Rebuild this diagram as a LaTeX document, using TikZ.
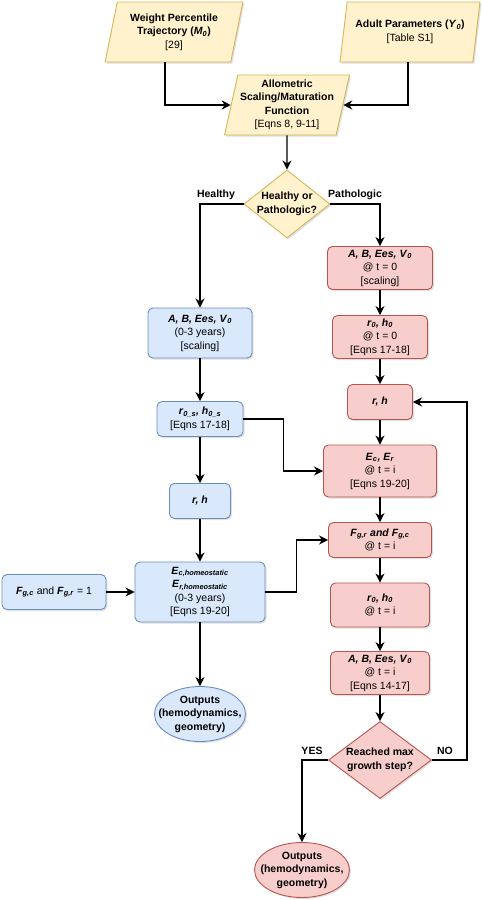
\documentclass[tikz,border=0pt]{standalone}
\usepackage{fontspec}
\setmainfont{Liberation Sans}
\usetikzlibrary{shapes.geometric,arrows.meta,shadows}

\definecolor{yelF}{HTML}{FFF2CC}
\definecolor{yelD}{HTML}{D6B656}
\definecolor{bluF}{HTML}{DAE8FC}
\definecolor{bluD}{HTML}{6C8EBF}
\definecolor{redF}{HTML}{F8CECC}
\definecolor{redD}{HTML}{B85450}

\newcommand{\bi}[1]{\textbf{\textit{#1}}}
\newcommand{\sbi}[1]{\textsubscript{\textbf{\textit{#1}}}}

\begin{document}
\begin{tikzpicture}[x=1pt,y=-1pt,
    font=\fontsize{10.5}{13.5}\selectfont,
    boxbase/.style={draw,align=center,line width=0.9pt,inner sep=1pt,
        drop shadow={opacity=0.25,shadow xshift=1.5pt,shadow yshift=-1.5pt}},
    yelbox/.style={boxbase,draw=yelD,fill=yelF,trapezium,trapezium left angle=76,
        trapezium right angle=104,trapezium stretches=true,minimum height=60pt},
    blubox/.style={boxbase,draw=bluD,fill=bluF,rounded corners=5pt},
    redbox/.style={boxbase,draw=redD,fill=redF,rounded corners=5pt},
    arr/.style={-{Stealth[length=9pt,width=9pt]},line width=1.4pt},
    lab/.style={font=\fontsize{10.5}{13.5}\selectfont\bfseries}]
    \useasboundingbox (0,0) rectangle (482,900);

    \node[yelbox,minimum width=138pt] (weight) at (174,32) {\textbf{Weight Percentile}\\ \textbf{Trajectory (\textit{M}\textsubscript{\textit{0}})}\\{[29]}};
    \node[yelbox,minimum width=140pt] (adult) at (410,32) {\textbf{Adult Parameters (\textit{Y}\textsubscript{\textit{0}})}\\{[Table S1]}};
    \node[yelbox,minimum width=125pt] (allo) at (287,105) {\textbf{Allometric}\\ \textbf{Scaling/Maturation}\\ \textbf{Function}\\{[Eqns 8, 9-11]}};
    \node[boxbase,draw=yelD,fill=yelF,diamond,aspect=1.27,inner sep=-4pt,minimum width=86pt,minimum height=68pt] (hp) at (287,204) {\textbf{Healthy or}\\ \textbf{Pathologic?}};
    \node[lab] (hl) at (216,195) {Healthy};
    \node[lab] (pl) at (355,195) {Pathologic};

    \node[redbox,minimum width=105pt,minimum height=43pt] (rAB0) at (380,268) {\bi{A, B, Ees, V}\sbi{0}\\ @ t = 0\\{[scaling]}};
    \node[redbox,minimum width=95pt,minimum height=43pt] (rrh0) at (380,337) {\bi{r}\sbi{0}\bi{, h}\sbi{0}\\ @ t = 0\\{[Eqns 17-18]}};
    \node[redbox,minimum width=65pt,minimum height=35pt] (rrh) at (380,402) {\bi{r, h}};
    \node[redbox,minimum width=113pt,minimum height=52pt] (rE) at (380,471) {\bi{E}\sbi{c}\bi{, E}\sbi{r}\\ @ t = i\\{[Eqns 19-20]}};
    \node[redbox,minimum width=103pt,minimum height=35pt] (rF) at (380,540) {\bi{F}\sbi{g,r} \bi{and F}\sbi{g,c}\\ @ t = i};
    \node[redbox,minimum width=99pt,minimum height=44pt] (rrhi) at (380,605) {\bi{r}\sbi{0}\bi{, h}\sbi{0}\\ @ t = i};
    \node[redbox,minimum width=99pt,minimum height=43pt] (rABi) at (380,673) {\bi{A, B, Ees, V}\sbi{0}\\ @ t = i\\{[Eqns 14-17]}};
    \node[boxbase,draw=redD,fill=redF,diamond,aspect=1.34,inner sep=-4pt,minimum width=103pt,minimum height=77pt] (rD) at (380,760) {\textbf{Reached max}\\ \textbf{growth step?}};
    \node[lab] (yes) at (312,751) {YES};
    \node[lab] (no) at (445,751) {NO};
    \node[boxbase,draw=redD,fill=redF,ellipse,inner sep=-12pt,minimum width=95pt,minimum height=55pt] (rOut) at (302,870) {\textbf{Outputs}\\ \textbf{(hemodynamics,}\\ \textbf{geometry)}};

    \node[blubox,minimum width=104pt,minimum height=50pt] (bAB) at (200,333) {\bi{A, B, Ees, V}\sbi{0}\\ (0-3 years)\\{[scaling]}};
    \node[blubox,minimum width=86pt,minimum height=35pt] (brh0) at (200,419) {\bi{r}\sbi{0\_s}\bi{, h}\sbi{0\_s}\\{[Eqns 17-18]}};
    \node[blubox,minimum width=61pt,minimum height=35pt] (brh) at (200,501) {\bi{r, h}};
    \node[blubox,minimum width=130pt,minimum height=60pt] (bE) at (200,592) {\bi{E}\sbi{c,homeostatic}\\ \bi{E}\sbi{r,homeostatic}\\ (0-3 years)\\{[Eqns 19-20]}};
    \node[blubox,minimum width=104pt,minimum height=35pt] (bF) at (54,592) {\bi{F}\sbi{g,c} and \bi{F}\sbi{g,r} = 1};
    \node[boxbase,draw=bluD,fill=bluF,ellipse,inner sep=-12pt,minimum width=91pt,minimum height=55pt] (bOut) at (200,714) {\textbf{Outputs}\\ \textbf{(hemodynamics,}\\ \textbf{geometry)}};

    \draw[arr] ([xshift=-9pt]weight.south) |- (allo);
    \draw[arr] ([xshift=-2pt]adult.south) |- (allo);
    \draw[arr] (allo) -- (hp);
    \draw[arr] (hp.west) -| (bAB);
    \draw[arr] (hp.east) -| (rAB0);

    \draw[arr] (rAB0) -- (rrh0);
    \draw[arr] (rrh0) -- (rrh);
    \draw[arr] (rrh) -- (rE);
    \draw[arr] (rE) -- (rF);
    \draw[arr] (rF) -- (rrhi);
    \draw[arr] (rrhi) -- (rABi);
    \draw[arr] (rABi) -- (rD);
    \draw[arr] (rD.west) -| (rOut);
    \draw[arr] (rD.east) -- ++(35,0) |- (rrh);

    \draw[arr] (bAB) -- (brh0);
    \draw[arr] (brh0) -- (brh);
    \draw[arr] (brh) -- (bE);
    \draw[arr] (bE) -- (bOut);
    \draw[arr] (bF) -- (bE);
    \draw[arr] (brh0.east) -- ++(40,0) |- (rE);
    \draw[arr] (bE.east) -- ++(31,0) |- (rF);
\end{tikzpicture}
\end{document}
